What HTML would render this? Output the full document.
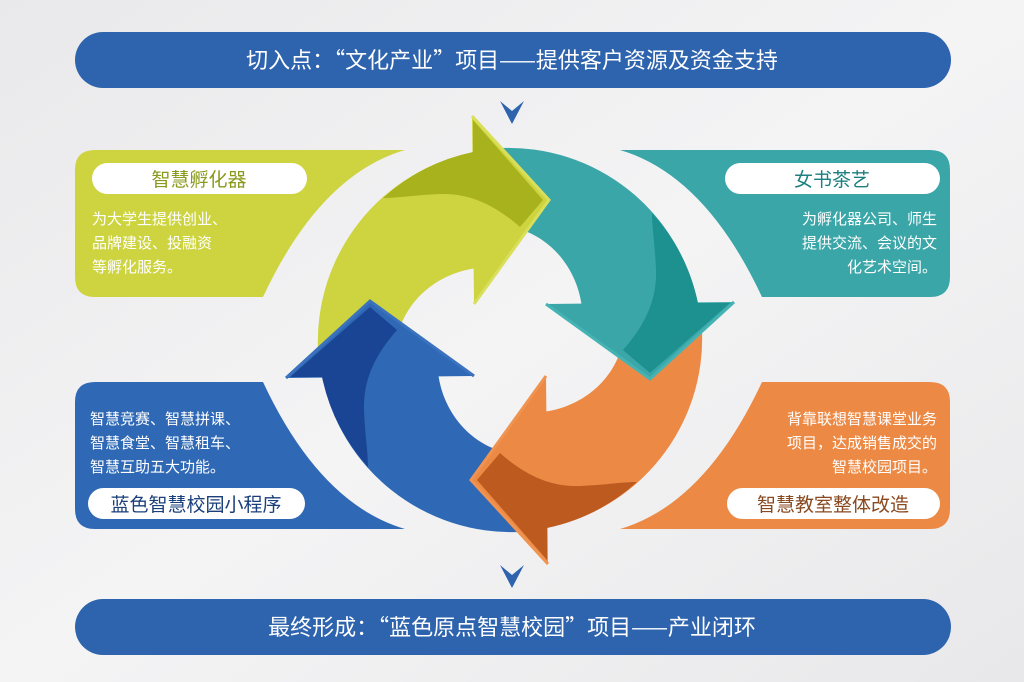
<!DOCTYPE html>
<html><head><meta charset="utf-8"><style>
html,body{margin:0;padding:0;background:#efeff0;}
svg{display:block;}
text{font-family:"Liberation Sans","Noto Sans CJK SC",sans-serif;}
.cjk{font-family:"Noto Sans CJK SC",sans-serif;}
</style></head><body>
<svg width="1024" height="682" viewBox="0 0 1024 682" xmlns="http://www.w3.org/2000/svg">
<defs>
<linearGradient id="bg" x1="0" y1="0" x2="1" y2="1">
<stop offset="0" stop-color="#e9e9eb"/><stop offset="0.5" stop-color="#f4f4f5"/><stop offset="1" stop-color="#e8e8ea"/>
</linearGradient>
<path id="panel" d="M95 150 L405 150 Q320 175 263 297 L95 297 Q75 297 75 277 L75 170 Q75 150 95 150 Z"/>
<g id="body"><path d="M318 350 A193 193 0 0 1 475 152 L478 268 C440 272 400 300 395 350 Z"/></g>
<path id="tri" d="M472 116 L549 200 L474 304 Z"/>
<path id="edge" d="M472 116 L549 200 L474 304" fill="none"/>
<path id="dark" d="M383 198 A193 193 0 0 1 473 152 L473 120 L543 200 L520 227 C495 205 470 193 440 194 C415 195 398 198 383 198 Z"/>
</defs>
<rect width="1024" height="682" fill="url(#bg)"/>

<rect x="75" y="32" width="876" height="56" rx="28" fill="#2e63ad"/>
<text class="cjk" x="512" y="68" font-size="22" fill="#fff" text-anchor="middle">切入点：“文化产业”项目——提供客户资源及资金支持</text>
<rect x="75" y="599" width="876" height="56" rx="28" fill="#2e63ad"/>
<text class="cjk" x="512" y="635" font-size="22" fill="#fff" text-anchor="middle">最终形成：“蓝色原点智慧校园”项目——产业闭环</text>

<path d="M500 101 L512 111 L524 101 L512 124 Z" fill="#2e63ad"/>
<path d="M500 565 L512 575 L524 565 L512 588 Z" fill="#2e63ad"/>

<use href="#panel" fill="#cdd43f"/>
<use href="#panel" fill="#3aa6a8" transform="translate(1025,0) scale(-1,1)"/>
<use href="#panel" fill="#2f68b4" transform="translate(0,679) scale(1,-1)"/>
<use href="#panel" fill="#ec8a45" transform="translate(1025,679) scale(-1,-1)"/>

<use href="#body" fill="#cdd43f"/>
<use href="#body" fill="#3aa6a8" transform="rotate(90 510 340)"/>
<use href="#body" fill="#ec8a45" transform="rotate(180 510 340)"/>
<use href="#body" fill="#2f68b4" transform="rotate(270 510 340)"/>

<g>
<use href="#tri" fill="#cdd43f"/><use href="#dark" fill="#a8b21c"/>
<use href="#edge" stroke="#d9df5a" stroke-width="3"/>
</g>
<g transform="rotate(90 510 340)">
<use href="#tri" fill="#3aa6a8"/><use href="#dark" fill="#1d9190"/>
<use href="#edge" stroke="#45b3b4" stroke-width="3"/>
</g>
<g transform="rotate(180 510 340)">
<use href="#tri" fill="#ec8a45"/><use href="#dark" fill="#bd5a1f"/>
<use href="#edge" stroke="#f09350" stroke-width="3"/>
</g>
<g transform="rotate(270 510 340)">
<use href="#tri" fill="#2f68b4"/><use href="#dark" fill="#1a4594"/>
<use href="#edge" stroke="#3a72bd" stroke-width="3"/>
</g>

<rect x="92" y="163" width="215" height="31" rx="15.5" fill="#fff"/>
<text x="199" y="186" font-size="19" fill="#8a9a1c" text-anchor="middle">智慧孵化器</text>
<rect x="725" y="163" width="215" height="31" rx="15.5" fill="#fff"/>
<text x="832" y="186" font-size="19" fill="#1d7f80" text-anchor="middle">女书茶艺</text>
<rect x="88" y="488" width="217" height="31" rx="15.5" fill="#fff"/>
<text x="196" y="511" font-size="19" fill="#1a3f7a" text-anchor="middle">蓝色智慧校园小程序</text>
<rect x="727" y="488" width="213" height="31" rx="15.5" fill="#fff"/>
<text x="833" y="511" font-size="19" fill="#8a4a20" text-anchor="middle">智慧教室整体改造</text>

<g font-size="15" fill="#fff">
<text x="92" y="224">为大学生提供创业、</text>
<text x="92" y="248">品牌建设、投融资</text>
<text x="92" y="272">等孵化服务。</text>
<g text-anchor="end">
<text x="937" y="224">为孵化器公司、师生</text>
<text x="937" y="248">提供交流、会议的文</text>
<text x="937" y="272">化艺术空间。</text>
<text x="937" y="424">背靠联想智慧课堂业务</text>
<text x="937" y="448">项目，达成销售成交的</text>
<text x="937" y="472">智慧校园项目。</text>
</g>
<text x="90" y="424">智慧竞赛、智慧拼课、</text>
<text x="90" y="448">智慧食堂、智慧租车、</text>
<text x="90" y="472">智慧互助五大功能。</text>
</g>
</svg>
</body></html>
